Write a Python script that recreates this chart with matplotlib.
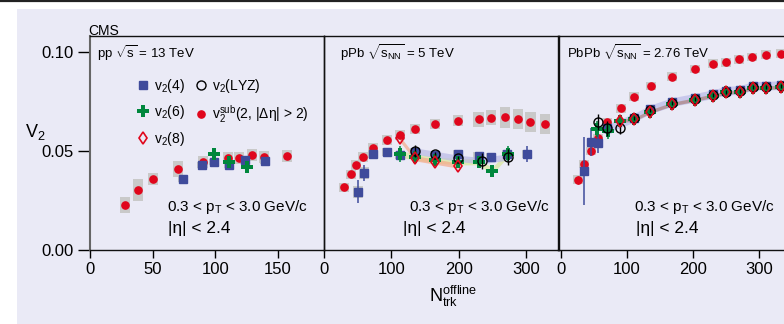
import matplotlib
matplotlib.use('Agg')
import matplotlib.pyplot as plt
from matplotlib.lines import Line2D
from matplotlib.patches import Rectangle

plt.rcParams['font.family'] = ['Liberation Sans', 'DejaVu Sans']
plt.rcParams['mathtext.fontset'] = 'custom'
plt.rcParams['mathtext.rm'] = 'Liberation Sans'
plt.rcParams['mathtext.it'] = 'Liberation Sans:italic'
plt.rcParams['mathtext.sf'] = 'Liberation Sans'

# ---- pp 13 TeV ----
pp_sub_n = [28, 38, 50, 70, 90, 110, 119, 129, 139, 157]
pp_sub_v = [0.0227, 0.0303, 0.0359, 0.0409, 0.0443, 0.0463, 0.0466, 0.0478, 0.0471, 0.0476]
pp_sub_sys = [0.0042, 0.0055, 0.0032, 0.0039, 0.003, 0.003, 0.003, 0.003, 0.003, 0.003]
pp_v24_n = [74, 89, 99, 111, 124, 140]
pp_v24_v = [0.0357, 0.0431, 0.0443, 0.0431, 0.0455, 0.0451]
pp_v24_err = [0.0012, 0.001, 0.001, 0.0012, 0.001, 0.001]
pp_v26_n = [99, 111, 125]
pp_v26_v = [0.0483, 0.0443, 0.0421]

# ---- pPb 5 TeV ----
ppb_sub_n = [30, 40, 48, 58, 73, 93, 112, 135, 165, 199, 229, 248, 268, 288, 306, 328]
ppb_sub_v = [0.0317, 0.0382, 0.0431, 0.0468, 0.0514, 0.0557, 0.0581, 0.0613, 0.0635,
             0.0653, 0.066, 0.0667, 0.067, 0.0663, 0.0645, 0.0635]
ppb_sub_sys = [0.0023, 0.0023, 0.0025, 0.0025, 0.0025, 0.0025, 0.0025, 0.0025, 0.0025,
               0.0027, 0.0038, 0.0038, 0.0052, 0.005, 0.005, 0.005]
ppb_v24_n = [50, 59, 73, 93, 112, 135, 165, 199, 229, 248, 271, 301]
ppb_v24_v = [0.0295, 0.039, 0.0483, 0.0493, 0.048, 0.0493, 0.048, 0.0483, 0.0475, 0.047, 0.0483, 0.0483]
ppb_v24_err = [0.006, 0.004, 0.001, 0.001, 0.001, 0.001, 0.001, 0.001, 0.001, 0.001, 0.001, 0.004]
ppb_v26_n = [112, 135, 165, 199, 229, 249, 272]
ppb_v26_v = [0.0485, 0.0471, 0.0455, 0.0446, 0.0446, 0.040, 0.0483]
ppb_v26_err = [0.004, 0.001, 0.001, 0.001, 0.001, 0.001, 0.004]
ppb_lyz_n = [135, 165, 199, 234, 272]
ppb_lyz_v = [0.050, 0.0483, 0.0463, 0.0451, 0.047]
ppb_lyz_err = [0.003, 0.001, 0.001, 0.004, 0.004]
ppb_v28_n = [112, 135, 165, 199]
ppb_v28_v = [0.0564, 0.0463, 0.0446, 0.0426]

# ---- PbPb 2.76 TeV ----
pbpb_sub_n = [26, 35, 45, 56, 70, 91, 111, 136, 168, 203, 231, 250, 270, 290, 310, 334]
pbpb_sub_v = [0.0355, 0.0434, 0.05, 0.0564, 0.0645, 0.0716, 0.0774, 0.0828, 0.0875,
              0.0914, 0.0941, 0.0948, 0.0963, 0.0975, 0.0986, 0.0991]
pbpb_v24_n = [35, 46, 56, 70, 111, 135, 168, 203, 231, 250, 271, 291, 311, 334]
pbpb_v24_v = [0.0399, 0.0547, 0.0542, 0.0614, 0.0668, 0.071, 0.0747, 0.0769, 0.0788,
              0.0805, 0.0808, 0.083, 0.083, 0.0833]
pbpb_v24_err = [0.0173, 0.007, 0.005, 0.002, 0.001, 0.001, 0.001, 0.001, 0.001, 0.001, 0.001,
                0.001, 0.001, 0.001]
pbpb_v26_n = [55, 71, 90, 111, 135, 168, 203, 231, 250, 271, 291, 311, 334]
pbpb_v26_v = [0.061, 0.0601, 0.0652, 0.066, 0.0699, 0.0737, 0.076, 0.078, 0.0796, 0.08,
              0.082, 0.082, 0.0823]
pbpb_v26_err = [0.004, 0.004, 0.002, 0.001, 0.001, 0.001, 0.001, 0.001, 0.001, 0.001, 0.001,
                0.001, 0.001]
pbpb_lyz_n = [56, 70, 90, 111, 135, 168, 203, 231, 250, 271, 291, 311, 334]
pbpb_lyz_v = [0.0648, 0.0614, 0.0614, 0.0665, 0.0705, 0.0742, 0.0765, 0.0785, 0.08,
              0.0805, 0.0825, 0.0825, 0.083]
pbpb_lyz_err = [0.004, 0.004, 0.003, 0.001, 0.001, 0.001, 0.001, 0.001, 0.001, 0.001, 0.001,
                0.001, 0.001]
pbpb_v28_n = [90, 111, 135, 168, 203, 231, 250, 271, 291, 311, 334]
pbpb_v28_v = [0.0652, 0.066, 0.0699, 0.0737, 0.076, 0.078, 0.0796, 0.08, 0.082, 0.082, 0.0823]

BG = '#eaeaf6'
RED = '#e0061c'
BLUE = '#3f4b9b'
GREEN = '#00873d'
GREY = '#c9c9c9'

W, H = 784, 324
fig = plt.figure(figsize=(W / 100, H / 100), dpi=100)
fig.patch.set_facecolor('white')


def fx(x):
    return x / W


def fy(y):
    return 1 - y / H


fig.patches.append(Rectangle((fx(17), 0), 1 - fx(17), fy(9), transform=fig.transFigure,
                             facecolor=BG, edgecolor='none', zorder=-10))
fig.add_artist(Line2D([0, 1], [fy(0.8), fy(0.8)], transform=fig.transFigure, color='#222222', lw=1.6))

ax1 = fig.add_axes([fx(90), fy(250), 234 / W, 214 / H])
ax2 = fig.add_axes([fx(324), fy(250), 234.5 / W, 214 / H])
ax3 = fig.add_axes([fx(558), fy(250), 234 / W, 214 / H])


def boxes(ax, n, v, s, w):
    ax.bar(n, [2 * e for e in s], bottom=[a - e for a, e in zip(v, s)], width=w,
           color=GREY, linewidth=0, zorder=1)


def band(ax, n, v, hw, color, alpha):
    ax.fill_between(n, [a - hw for a in v], [a + hw for a in v], color=color, alpha=alpha,
                    linewidth=0, zorder=1.5)


def red_dots(ax, n, v):
    ax.plot(n, v, 'o', color=RED, ms=5.2, mec=RED, zorder=4)


def blue_sq(ax, n, v, err):
    ax.errorbar(n, v, yerr=err, fmt='s', color=BLUE, ms=6, elinewidth=1.1, capsize=0, zorder=5)


def green_plus(ax, n, v, err=None):
    ax.errorbar(n, v, yerr=err, fmt='P', color=GREEN, ms=8, mew=0, elinewidth=1.1, capsize=0, zorder=6)


def lyz(ax, n, v, err):
    ax.errorbar(n, v, yerr=err, fmt='o', mfc='none', mec='black', ecolor='black', ms=6.5,
                mew=1, elinewidth=1, capsize=0, zorder=7)


def diamonds(ax, n, v):
    ax.plot(n, v, 'd', mfc='none', mec=RED, ms=6.5, mew=1.2, zorder=8)


# pp panel
boxes(ax1, pp_sub_n, pp_sub_v, pp_sub_sys, 8)
boxes(ax1, pp_v24_n, pp_v24_v, [0.0015] * len(pp_v24_n), 8)
red_dots(ax1, pp_sub_n, pp_sub_v)
blue_sq(ax1, pp_v24_n, pp_v24_v, pp_v24_err)
green_plus(ax1, pp_v26_n, pp_v26_v)

# pPb panel
boxes(ax2, ppb_sub_n, ppb_sub_v, ppb_sub_sys, 15)
boxes(ax2, ppb_v24_n, ppb_v24_v, [0.003, 0.003] + [0.002] * (len(ppb_v24_n) - 2), 15)
band(ax2, ppb_v26_n, ppb_v26_v, 0.0016, '#d9e89a', 0.7)
band(ax2, ppb_lyz_n, ppb_lyz_v, 0.0016, '#b9b9e6', 0.7)
band(ax2, ppb_v28_n, ppb_v28_v, 0.0013, '#f5a98a', 0.7)
red_dots(ax2, ppb_sub_n, ppb_sub_v)
blue_sq(ax2, ppb_v24_n, ppb_v24_v, ppb_v24_err)
green_plus(ax2, ppb_v26_n, ppb_v26_v, ppb_v26_err)
lyz(ax2, ppb_lyz_n, ppb_lyz_v, ppb_lyz_err)
diamonds(ax2, ppb_v28_n, ppb_v28_v)

# PbPb panel
boxes(ax3, pbpb_sub_n, pbpb_sub_v, [0.0022] * len(pbpb_sub_n), 15)
band(ax3, pbpb_v24_n[3:], pbpb_v24_v[3:], 0.0022, '#c0c0ea', 0.8)
band(ax3, pbpb_v28_n, pbpb_v28_v, 0.0009, '#b08a8a', 0.8)
ax3.errorbar(pbpb_sub_n, pbpb_sub_v, yerr=[0.002] + [0] * (len(pbpb_sub_n) - 1), fmt='none',
             ecolor=RED, elinewidth=1, capsize=0, zorder=4)
red_dots(ax3, pbpb_sub_n, pbpb_sub_v)
blue_sq(ax3, pbpb_v24_n, pbpb_v24_v, pbpb_v24_err)
green_plus(ax3, pbpb_v26_n, pbpb_v26_v, pbpb_v26_err)
lyz(ax3, pbpb_lyz_n, pbpb_lyz_v, pbpb_lyz_err)
diamonds(ax3, pbpb_v28_n, pbpb_v28_v)

ax1.set_xlim(0, 186.7)
ax2.set_xlim(0, 347.5)
ax3.set_xlim(-4.5, 350)
ax1.set_xticks([0, 50, 100, 150])
ax2.set_xticks([0, 100, 200, 300])
ax3.set_xticks([0, 100, 200, 300])
for ax in (ax1, ax2, ax3):
    ax.set_ylim(0, 0.1081)
    ax.set_facecolor('none')
    ax.tick_params(axis='x', direction='out', length=6, width=1, labelsize=12, pad=3)
    for s in ax.spines.values():
        s.set_linewidth(1)
        s.set_color('#111111')
ax1.set_yticks([0.0, 0.05, 0.10])
ax1.set_yticklabels(['0.00', '0.05', '0.10'])
ax1.tick_params(axis='y', direction='out', length=9, width=1, labelsize=12, pad=3)
ax1.spines['left'].set_color('#666666')
ax1.spines['left'].set_linewidth(1.5)
for ax in (ax2, ax3):
    ax.set_yticks([])

# legend
h_v24 = Line2D([], [], marker='s', color=BLUE, ls='none', ms=6)
h_v26 = Line2D([], [], marker='P', color=GREEN, ls='none', ms=8, mew=0)
h_v28 = Line2D([], [], marker='d', mfc='none', mec=RED, ls='none', ms=6.5, mew=1.2)
h_lyz = Line2D([], [], marker='o', mfc='none', mec='black', ls='none', ms=6.5)
h_sub = Line2D([], [], marker='o', color=RED, ls='none', ms=5.2)
ax1.legend([h_v24, h_v26, h_v28, h_lyz, h_sub],
           [r'v$_2$(4)', r'v$_2$(6)', r'v$_2$(8)', r'v$_2$(LYZ)', r'v$_2^{\rm sub}$(2, |Δη| > 2)'],
           ncol=2, loc='upper left', bbox_to_anchor=(0.2, 0.81), frameon=False, fontsize=10,
           handlelength=0.9, handletextpad=0.35, columnspacing=0.7, labelspacing=0.62,
           borderpad=0, borderaxespad=0)

# texts
fig.text(fx(88), fy(35), 'CMS', fontsize=10, ha='left', va='baseline')
fig.text(fx(97), fy(53), r'pp $\sqrt{\mathrm{s}}$ = 13 TeV', fontsize=9.5, ha='left', va='center')
fig.text(fx(340), fy(53), r'pPb $\sqrt{\mathrm{s}_{\mathrm{NN}}}$ = 5 TeV', fontsize=9.5, ha='left', va='center')
fig.text(fx(567), fy(53), r'PbPb $\sqrt{\mathrm{s}_{\mathrm{NN}}}$ = 2.76 TeV', fontsize=9.5, ha='left', va='center')
for x1, x2 in ((167, 168), (409, 403), (634, 636)):
    fig.text(fx(x1), fy(207), r'0.3 < p$_\mathrm{T}$ < 3.0 GeV/c', fontsize=11, ha='left', va='center')
    fig.text(fx(x2), fy(229), '|η| < 2.4', fontsize=12.5, ha='left', va='center')
fig.text(fx(25), fy(132), r'V$_2$', fontsize=13, ha='left', va='center')
fig.text(fx(453), fy(296), r'N$_{\mathrm{trk}}^{\mathrm{offline}}$', fontsize=13, ha='center', va='center')

fig.savefig('out.png', dpi=100, facecolor=fig.get_facecolor())
